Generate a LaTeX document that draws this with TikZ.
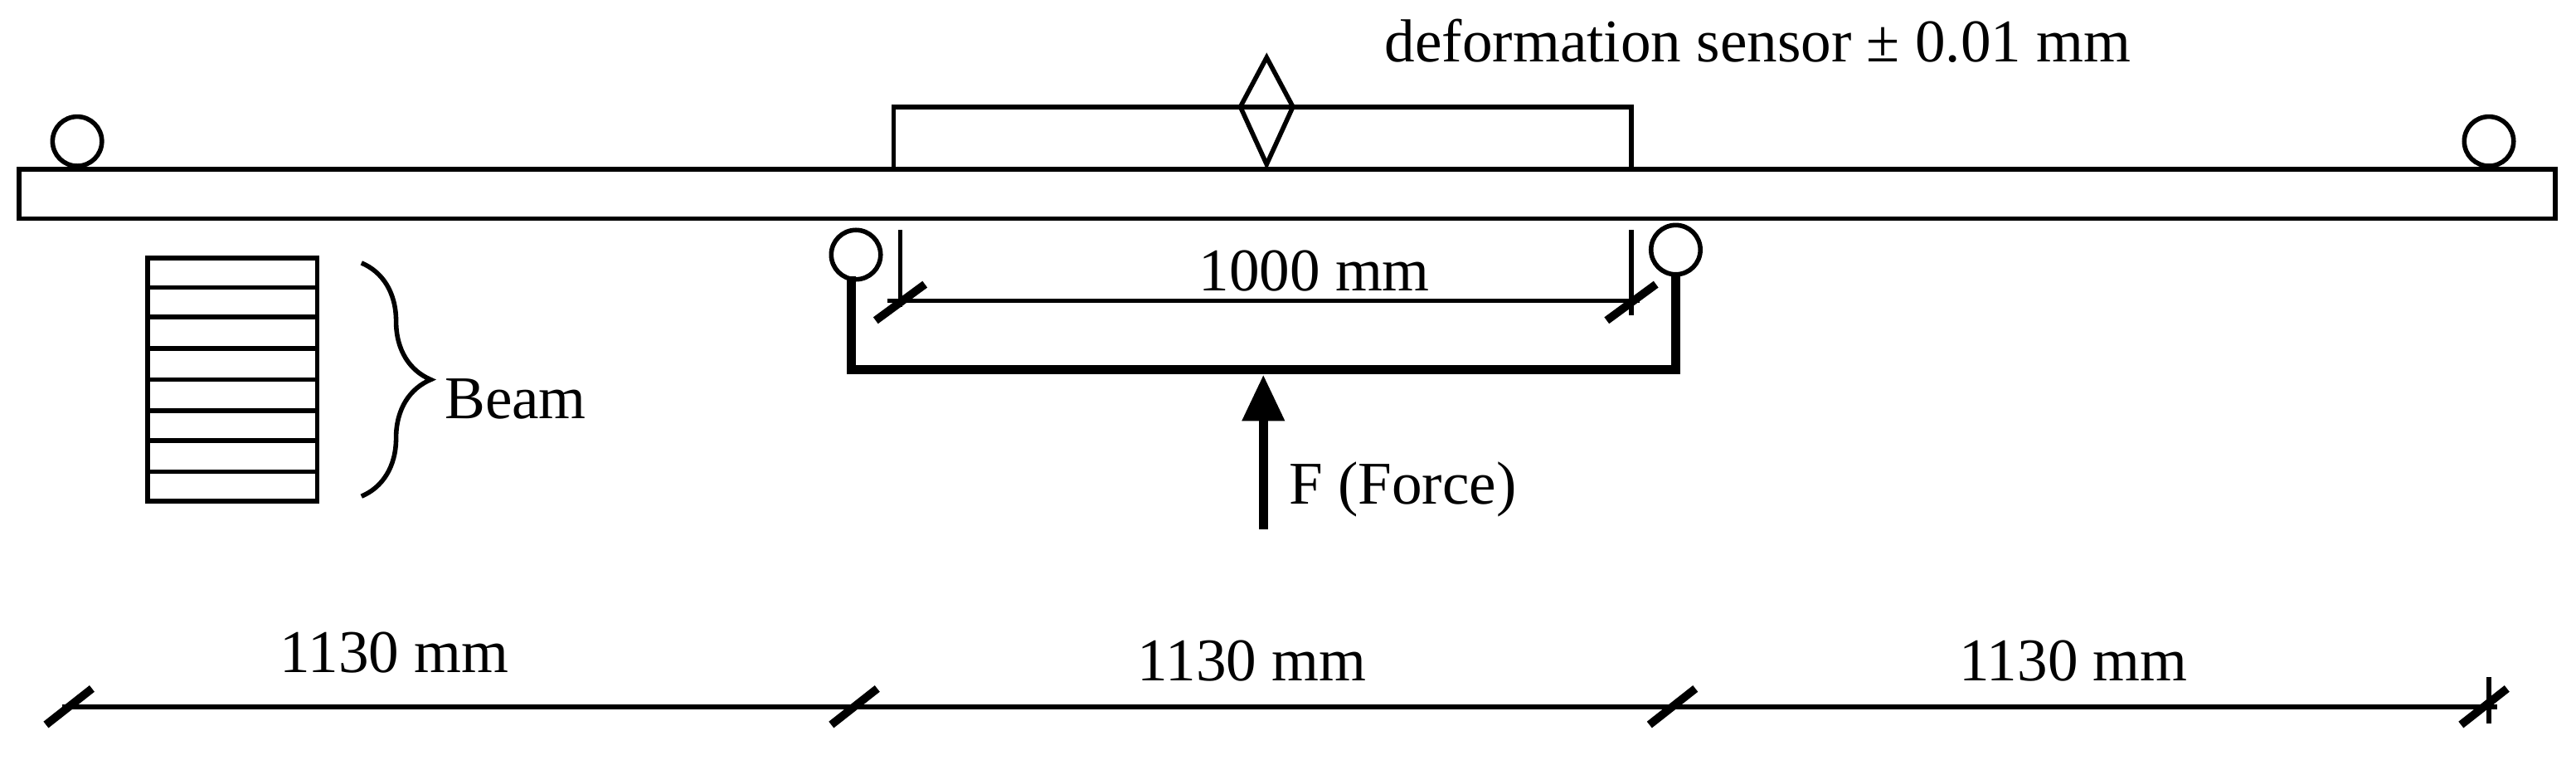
\documentclass[tikz,border=0pt]{standalone}
\usepackage{fontspec}
\setmainfont{Liberation Serif}
\usetikzlibrary{arrows.meta,decorations.pathreplacing}
\begin{document}
\begin{tikzpicture}[x=0.01cm,y=-0.01cm,
  thin line/.style={line width=0.8pt},
  thick line/.style={line width=1.6pt},
  lbl/.style={font=\fontsize{10.5}{12}\selectfont,inner sep=0pt},
  tick/.style={line width=1.4pt}]
\useasboundingbox (0,0) rectangle (1568,462);
% beam
\node[draw,thin line,minimum width=1543\pgflinewidth,inner sep=0pt,minimum width=15.43cm,minimum height=0.3cm] (beam) at (783.5,118) {};
\node[draw,thin line,circle,minimum size=0.3cm,inner sep=0pt] (c1) at (47,86) {};
\node[draw,thin line,circle,minimum size=0.3cm,inner sep=0pt] (c2) at (1515,86) {};
\node[draw,thin line,circle,minimum size=0.3cm,inner sep=0pt] (c3) at (521,155) {};
\node[draw,thin line,circle,minimum size=0.3cm,inner sep=0pt] (c4) at (1020,152) {};
% sensor
\draw[thin line] (544,103) -- (544,65) -- (993,65) -- (993,103);
\draw[thin line] (771,35) -- (787,65) -- (771,100) -- (755,65) -- cycle;
\node[lbl] (sens) at (1070,25) {deformation sensor ± 0.01 mm};
% frame
\draw[thick line] (518,168) -- (518,225) -- (1020,225) -- (1020,166);
% 1000 dim
\draw[thin line] (548,140) -- (548,187);
\draw[thin line] (993,140) -- (993,192);
\draw[thin line] (540,183) -- (998,183);
\draw[tick] (533,195) -- (563,173);
\draw[tick] (978,195) -- (1008,173);
\node[lbl] (d1000) at (800,165) {1000 mm};
% force
\coordinate (fb) at (769,322);
\draw[thick line,-{Triangle[length=8pt,width=7pt]}] (fb) -- (769,228);
\node[lbl,anchor=west] (F) at (784,298) {F (Force)};
% section
\draw[thin line] (90,157) rectangle (193,305);
\foreach \yy in {175,193,212,231,250,268,287} \draw[thin line] (90,\yy) -- (193,\yy);
\draw[thin line,decorate,decoration={brace,amplitude=12pt}] (220,160) -- (220,302);
\node[lbl,anchor=west] (beamlbl) at (270,243) {Beam};
% bottom dims
\draw[thin line] (38,430) -- (1520,430);
\foreach \xx in {42,520,1018,1512} \draw[tick] (\xx-14,441) -- (\xx+14,419);
\draw[thin line] (1515,412) -- (1515,440);
\node[lbl] (a) at (240,397) {1130 mm};
\node[lbl] (b) at (762,402) {1130 mm};
\node[lbl] (c) at (1262,402) {1130 mm};
\end{tikzpicture}
\end{document}
